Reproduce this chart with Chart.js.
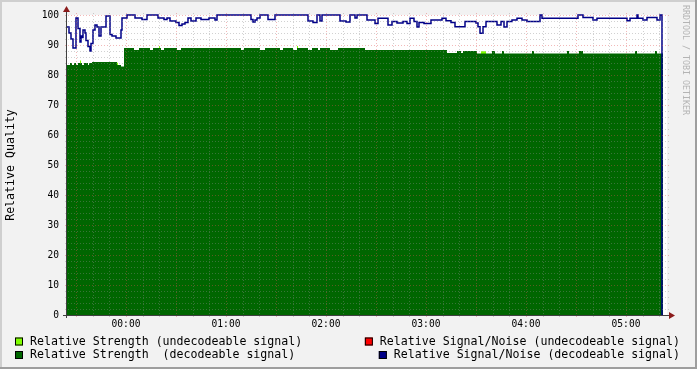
<!DOCTYPE html>
<html>
<head>
<meta charset="utf-8">
<script src="https://cdn.jsdelivr.net/npm/chart.js@4/dist/chart.umd.min.js"></script>
<style>
  html, body { margin: 0; padding: 0; background: #f2f2f2; }
  canvas { display: block; }
</style>
</head>
<body>
<canvas id="quality_chart" width="697" height="369"></canvas>
<script>
// time axis is in minutes relative to 00:00 (negative = the evening before)
const timeStart = -35.4;
const timeEnd = 324.6;
const dataEnd = 322.2;
const hourTicks = [0, 60, 120, 180, 240, 300];
const hourLabels = ['00:00', '01:00', '02:00', '03:00', '04:00', '05:00'];
const qualityTicks = [0, 10, 20, 30, 40, 50, 60, 70, 80, 90, 100];

// Relative Signal/Noise (decodeable signal) - change points
const snrTimes = [-35.4, -34.2, -33.0, -31.8, -30.0, -28.8, -27.6, -27.0, -26.4, -25.8, -24.6, -24.0,
  -22.8, -21.6, -21.0, -19.8, -18.6, -17.4, -16.2, -15.0, -12.0, -9.6, -8.4, -6.0, -3.0, -2.4,
  0.6, 5.4, 9.6, 12.6, 19.2, 22.8, 24.6, 26.4, 30.0, 31.8, 33.6, 35.4, 37.2, 39.0, 42.0, 45.0,
  49.8, 53.4, 54.6, 75.0, 76.2, 77.4, 78.6, 80.4, 85.2, 89.4, 109.2, 112.2, 114.6, 116.4, 117.6,
  128.4, 132.0, 134.4, 137.4, 138.6, 144.6, 149.4, 151.2, 157.2, 159.6, 162.6, 166.2, 168.6,
  170.4, 172.8, 174.6, 175.8, 178.8, 183.0, 189.6, 192.0, 195.0, 197.4, 203.4, 210.0, 211.2,
  212.4, 214.2, 216.0, 222.6, 225.0, 226.8, 228.6, 231.6, 234.6, 237.6, 240.6, 248.4, 249.6,
  271.2, 274.2, 280.2, 282.6, 300.6, 302.4, 306.6, 307.2, 310.2, 312.6, 318.6, 320.4, 321.6];
const snrValues = [96, 94, 92, 89, 99, 95.5, 91, 93, 92.5, 95, 94, 91.5,
  89.5, 88, 90.5, 95, 96.7, 96, 93, 96, 99.7, 93.5, 93, 92.3, 95, 99,
  100, 99, 98.5, 100, 99, 98.5, 99, 98, 97.5, 96.5, 97, 97.5, 99, 98, 99, 98.5,
  99, 98.3, 100, 98.5, 97.7, 98.3, 99, 100, 98.5, 100, 98, 97.5, 100, 98, 100,
  98, 97.7, 100, 99, 100, 98.3, 97.2, 98.9, 96.7, 97.8, 97.3, 97.8, 97.2,
  98.9, 97.8, 96, 97.5, 97.2, 98.3, 98.9, 98.1, 97.5, 96.1, 97.8, 97.3, 96.1,
  93.9, 96.1, 97.8, 96.7, 97.8, 96, 97.8, 98.3, 98.9, 98.3, 97.8, 100, 98.9,
  100, 99.2, 98.3, 98.9, 98.1, 98.9, 100, 98.9, 98.3, 99.2, 98.3, 100, 0];

// Relative Strength (decodeable signal) - change points
const strengthTimes = [-35.4, -33.6, -32.4, -31.2, -30.0, -28.8, -26.4, -25.2, -22.8, -22.2, -20.4,
  -5.4, -3.0, -1.2, 4.8, 7.8, 14.4, 16.2, 21.0, 22.8, 30.6, 33.0, 69.0, 70.8, 80.4, 83.4,
  92.4, 94.2, 100.2, 102.6, 109.2, 111.6, 115.2, 116.4, 122.4, 127.2, 143.4, 192.6, 198.6,
  201.0, 202.2, 210.6, 219.6, 221.4, 225.6, 226.8, 243.6, 244.8, 264.6, 265.8, 271.8, 274.2,
  305.4, 306.6, 317.4, 318.6];
const strengthValues = [83.3, 84, 83.3, 84, 83.3, 84, 83.3, 84, 83.3, 84, 84.3,
  83.3, 82.8, 89, 88.3, 89, 88.3, 89, 88.3, 89, 88.3, 89, 88.3, 89, 88.3, 89,
  88.3, 89, 88.3, 89, 88.3, 89, 88.3, 89, 88.3, 89, 88.3, 87.3, 88,
  87.3, 88, 87.2, 88, 87.2, 88, 87.2, 88, 87.2, 88, 87.2, 88, 87.2,
  88, 87.2, 88, 87.2];

// Relative Strength (undecodeable signal) - only a few short blips
const weakTimes = [-35.4, -27.6, -27.0, -5.4, -4.8, 19.8, 20.4, 102.6, 103.2, 213.0, 216.0];
const weakValues = [0, 84.8, 0, 84.1, 0, 89.7, 0, 89.7, 0, 87.9, 0];

// Relative Signal/Noise (undecodeable signal) - no samples in this window
const noiseTimes = [];
const noiseValues = [];

function steps(times, values) {
  const pts = times.map((t, i) => ({ x: t, y: values[i] }));
  if (pts.length) pts.push({ x: dataEnd, y: values[values.length - 1] });
  return pts;
}

const monoFont = '"DejaVu Sans Mono", "Liberation Mono", monospace';

// background, plot canvas and frame shading
const frame = {
  id: 'frame',
  beforeDraw(chart) {
    const { ctx, width, height, chartArea: a } = chart;
    ctx.save();
    ctx.fillStyle = '#f2f2f2';
    ctx.fillRect(0, 0, width, height);
    ctx.fillStyle = '#cfcfcf';
    ctx.fillRect(0, 0, width, 2);
    ctx.fillRect(0, 0, 2, height);
    ctx.fillStyle = '#9e9e9e';
    ctx.fillRect(0, height - 2, width, 2);
    ctx.fillRect(width - 2, 0, 2, height);
    ctx.fillStyle = '#ffffff';
    ctx.fillRect(a.left, a.top, a.right - a.left, a.bottom - a.top);
    ctx.restore();
  }
};

// rrdtool style grid over the data, axes and arrows
const rrdGrid = {
  id: 'rrdGrid',
  afterDatasetsDraw(chart) {
    const { ctx, chartArea: a, scales } = chart;
    const x = scales.x, y = scales.y;
    ctx.save();
    ctx.lineWidth = 1;
    ctx.setLineDash([1, 2]);
    const minorColor = 'rgba(140,140,140,0.4)';
    const majorColor = 'rgba(222,80,80,0.4)';
    for (let t = -30; t <= timeEnd; t += 10) {
      const px = Math.round(x.getPixelForValue(t)) + 0.5;
      ctx.strokeStyle = (t % 30 === 0) ? majorColor : minorColor;
      ctx.beginPath();
      ctx.moveTo(px, a.bottom + 2);
      ctx.lineTo(px, a.top - 2);
      ctx.stroke();
    }
    for (let v = 2; v <= 100; v += 2) {
      const py = Math.round(y.getPixelForValue(v)) + 0.5;
      ctx.strokeStyle = (v % 10 === 0) ? majorColor : minorColor;
      ctx.beginPath();
      ctx.moveTo(a.left - 2, py);
      ctx.lineTo(a.right + 2, py);
      ctx.stroke();
    }
    ctx.setLineDash([]);
    // axes
    ctx.strokeStyle = '#404040';
    ctx.beginPath();
    ctx.moveTo(a.left - 0.5, a.bottom + 3);
    ctx.lineTo(a.left - 0.5, a.top - 6);
    ctx.moveTo(a.left - 4, a.bottom + 0.5);
    ctx.lineTo(a.right + 4, a.bottom + 0.5);
    ctx.stroke();
    ctx.fillStyle = '#8b1c1c';
    ctx.beginPath();
    ctx.moveTo(a.left - 0.5, a.top - 9);
    ctx.lineTo(a.left - 4, a.top - 3);
    ctx.lineTo(a.left + 3, a.top - 3);
    ctx.closePath();
    ctx.fill();
    ctx.beginPath();
    ctx.moveTo(a.right + 8, a.bottom + 0.5);
    ctx.lineTo(a.right + 2, a.bottom - 3);
    ctx.lineTo(a.right + 2, a.bottom + 4);
    ctx.closePath();
    ctx.fill();
    ctx.restore();
  }
};

// legend in two columns plus the vertical watermark
const rrdLegend = {
  id: 'rrdLegend',
  afterDraw(chart) {
    const { ctx, width } = chart;
    const ds = chart.data.datasets;
    const rows = [341.5, 355];
    // [dataset index, row, column]
    const slots = [[0, 0, 'left'], [3, 0, 'right'], [1, 1, 'left'], [2, 1, 'right']];
    ctx.save();
    ctx.font = '11.6px ' + monoFont;
    ctx.textBaseline = 'middle';
    slots.forEach(([i, r, side]) => {
      const label = ds[i].label;
      const tw = ctx.measureText(label).width;
      const textX = side === 'left' ? 30 : 680 - tw;
      const boxX = textX - 15;
      const cy = rows[r];
      ctx.fillStyle = ds[i].legendColor;
      ctx.fillRect(boxX, cy - 4, 8, 8);
      ctx.strokeStyle = '#000';
      ctx.lineWidth = 1;
      ctx.strokeRect(boxX + 0.5, cy - 3.5, 7, 7);
      ctx.fillStyle = '#000';
      ctx.textAlign = 'left';
      ctx.fillText(label, textX, cy);
    });
    ctx.font = '8.3px ' + monoFont;
    ctx.fillStyle = '#b4b4b4';
    ctx.translate(width - 12, 5);
    ctx.rotate(Math.PI / 2);
    ctx.textBaseline = 'middle';
    ctx.fillText('RRDTOOL / TOBI OETIKER', 0, 0);
    ctx.restore();
  }
};

const datasets = [
  {
    label: 'Relative Strength (undecodeable signal)',
    data: steps(weakTimes, weakValues),
    legendColor: '#80ff00',
    backgroundColor: '#80ff00',
    borderWidth: 0,
    fill: 'origin',
    stepped: 'before',
    pointRadius: 0,
    order: 2
  },
  {
    label: 'Relative Strength  (decodeable signal)',
    data: steps(strengthTimes, strengthValues),
    legendColor: '#006600',
    backgroundColor: '#006600',
    borderWidth: 0,
    fill: 'origin',
    stepped: 'before',
    pointRadius: 0,
    order: 1
  },
  {
    label: 'Relative Signal/Noise (decodeable signal)',
    data: steps(snrTimes, snrValues),
    legendColor: '#000088',
    borderColor: '#000088',
    borderWidth: 1.5,
    fill: false,
    stepped: 'before',
    pointRadius: 0,
    clip: 3,
    order: 0
  },
  {
    label: 'Relative Signal/Noise (undecodeable signal)',
    data: steps(noiseTimes, noiseValues),
    legendColor: '#ff0000',
    borderColor: '#ff0000',
    borderWidth: 1,
    fill: false,
    stepped: 'before',
    pointRadius: 0,
    order: 3
  }
];

new Chart(document.getElementById('quality_chart'), {
  type: 'line',
  data: { datasets: datasets },
  options: {
    responsive: false,
    animation: false,
    devicePixelRatio: 1,
    layout: { padding: { top: 15, right: 30, left: 0, bottom: 0 } },
    plugins: { legend: { display: false }, tooltip: { enabled: false } },
    scales: {
      x: {
        type: 'linear',
        min: timeStart,
        max: timeEnd,
        grid: { display: false, drawTicks: false },
        border: { display: false },
        afterBuildTicks: s => { s.ticks = hourTicks.map(v => ({ value: v })); },
        afterFit: s => { s.height = 54; },
        ticks: {
          autoSkip: false,
          maxRotation: 0,
          padding: 4,
          color: '#000',
          font: { family: monoFont, size: 9.6 },
          callback: (v, i) => hourLabels[i]
        }
      },
      y: {
        min: 0,
        max: 100,
        grid: { display: false, drawTicks: false },
        border: { display: false },
        afterBuildTicks: s => { s.ticks = qualityTicks.map(v => ({ value: v })); },
        afterFit: s => { s.width = 67; },
        ticks: {
          padding: 8,
          color: '#000',
          font: { family: monoFont, size: 9.6 }
        },
        title: {
          display: true,
          text: 'Relative Quality',
          color: '#000',
          padding: { top: 4, bottom: 0 },
          font: { family: monoFont, size: 11.6, weight: 'normal' }
        }
      }
    }
  },
  plugins: [frame, rrdGrid, rrdLegend]
});
</script>
</body>
</html>
